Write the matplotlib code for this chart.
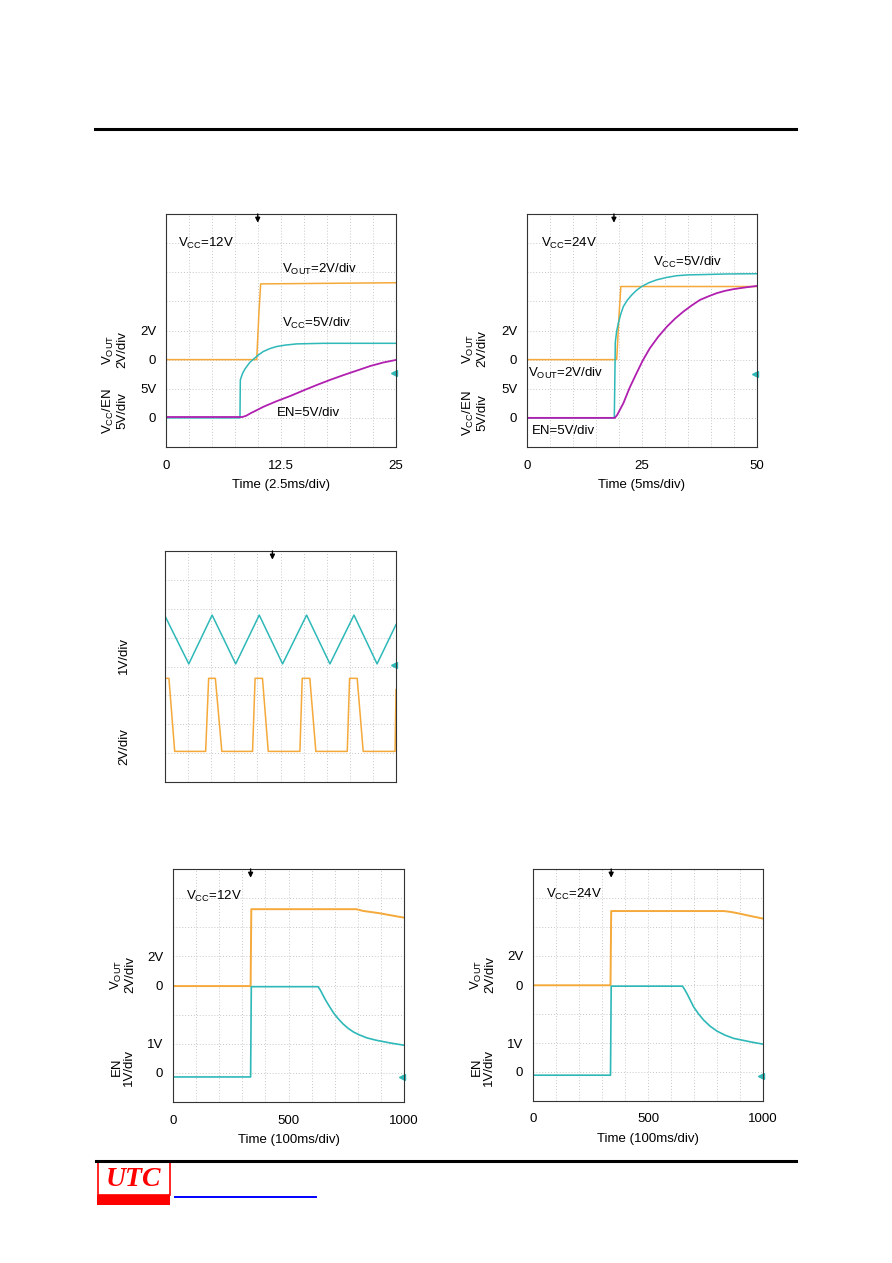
import matplotlib
matplotlib.use("Agg")
import matplotlib.pyplot as plt
from matplotlib.lines import Line2D
from matplotlib.patches import Rectangle

plt.rcParams['font.family'] = ['Liberation Sans', 'DejaVu Sans']
plt.rcParams['mathtext.fontset'] = 'custom'
plt.rcParams['mathtext.rm'] = 'Liberation Sans'
plt.rcParams['mathtext.it'] = 'Liberation Sans:italic'
plt.rcParams['mathtext.bf'] = 'Liberation Sans:bold'

W, H = 892, 1263
ORANGE = '#f4a93a'
CYAN = '#2fb8b8'
MAGENTA = '#b01fb0'
FS = 9.5

# ---- panel 1: start-up, Vcc=12V (time in ms, y in divisions) ----
p1_out_t = [0, 9.86, 10.1, 10.29, 25]
p1_out_y = [3.0, 3.0, 4.6, 5.6, 5.64]
p1_vcc_t = [0, 8.04, 8.08, 8.2, 8.33, 8.55, 8.77, 9.1, 9.49, 10.0, 10.58,
            11.3, 12.03, 13.0, 14.2, 17.1, 25]
p1_vcc_y = [1.0, 1.0, 2.30, 2.42, 2.53, 2.66, 2.76, 2.90, 3.01, 3.15, 3.28,
            3.38, 3.45, 3.50, 3.54, 3.56, 3.56]
p1_en_t = [0, 8.29, 8.7, 9.2, 9.9, 10.58, 12.0, 13.5, 15.0, 16.4, 17.8,
           19.3, 20.8, 22.2, 23.6, 25]
p1_en_y = [1.03, 1.03, 1.07, 1.16, 1.27, 1.38, 1.57, 1.75, 1.95, 2.13, 2.30,
           2.47, 2.63, 2.78, 2.90, 2.99]

# ---- panel 2: start-up, Vcc=24V ----
p2_out_t = [0, 19.5, 20.0, 20.4, 50]
p2_out_y = [3.0, 3.0, 4.5, 5.51, 5.51]
p2_vcc_t = [0, 18.98, 19.2, 19.5, 19.85, 20.4, 20.94, 21.8, 22.76, 23.8,
            24.93, 26.5, 28.2, 30.3, 32.5, 35.0, 38.3, 43.0, 50]
p2_vcc_y = [1.0, 1.0, 3.6, 3.98, 4.25, 4.57, 4.82, 5.04, 5.22, 5.38,
            5.51, 5.64, 5.74, 5.82, 5.88, 5.91, 5.92, 5.94, 5.95]
p2_en_t = [0, 19.1, 19.6, 20.2, 20.94, 22.3, 23.8, 25.2, 26.7, 28.5, 30.4,
           32.2, 34.0, 35.8, 37.6, 39.4, 41.2, 43.0, 44.9, 47.5, 50]
p2_en_y = [1.0, 1.0, 1.1, 1.28, 1.50, 2.03, 2.53, 2.98, 3.39, 3.78, 4.13,
           4.41, 4.65, 4.86, 5.05, 5.17, 5.28, 5.36, 5.42, 5.48, 5.53]

# ---- panel 3: oscillator / switching (x and y in divisions) ----
p3_tri_t = [0, 1.03, 2.04, 3.06, 4.08, 5.09, 6.13, 7.14, 8.18, 9.18, 10.0]
p3_tri_y = [5.75, 4.09, 5.78, 4.09, 5.78, 4.09, 5.78, 4.09, 5.78, 4.09, 5.45]
p3_sq_t = [0, 0.17, 0.42, 1.76, 1.89, 2.18, 2.46, 3.79, 3.90, 4.22, 4.47,
           5.84, 5.94, 6.27, 6.53, 7.89, 7.99, 8.32, 8.58, 9.96, 10.0]
p3_sq_y = [3.59, 3.59, 1.06, 1.06, 3.59, 3.59, 1.06, 1.06, 3.59, 3.59, 1.06,
           1.06, 3.59, 3.59, 1.06, 1.06, 3.59, 3.59, 1.06, 1.06, 3.2]

# ---- panel 4: EN on/off, Vcc=12V (time in ms) ----
p4_out_t = [0, 336, 339, 794, 823, 860, 895, 950, 1000]
p4_out_y = [3.98, 3.98, 6.62, 6.62, 6.56, 6.52, 6.48, 6.40, 6.33]
p4_en_t = [0, 336, 339, 628, 638, 649, 662, 678, 695, 714, 735, 758, 782,
           808, 840, 880, 938, 1000]
p4_en_y = [0.86, 0.86, 3.96, 3.96, 3.84, 3.67, 3.48, 3.27, 3.06, 2.87, 2.69,
           2.53, 2.40, 2.30, 2.20, 2.12, 2.03, 1.95]

# ---- panel 5: EN on/off, Vcc=24V ----
p5_out_t = [0, 337, 340, 829, 860, 887, 945, 1000]
p5_out_y = [3.99, 3.99, 6.55, 6.55, 6.52, 6.48, 6.38, 6.29]
p5_en_t = [0, 337, 340, 650, 659, 669, 683, 698, 720, 742, 770, 800, 835,
           872, 945, 1000]
p5_en_y = [0.89, 0.89, 3.96, 3.96, 3.85, 3.71, 3.49, 3.25, 3.00, 2.79, 2.58,
           2.41, 2.27, 2.16, 2.04, 1.96]

fig = plt.figure(figsize=(W / 100, H / 100), dpi=100)


def fx(x):
    return x / W


def fy(y):
    return 1 - y / H


def panel(box, xmax, xticks, xlabels, yticks, ylabels, xlabel, trig, mark_y):
    x0, y0, x1, y1 = box
    ax = fig.add_axes([fx(x0), fy(y1), (x1 - x0) / W, (y1 - y0) / H])
    ax.set_xlim(0, xmax)
    ax.set_ylim(0, 8)
    ax.set_xticks(xticks)
    ax.set_xticklabels(xlabels, fontsize=FS)
    ax.set_xticks([xmax * i / 10 for i in range(11)], minor=True)
    ax.set_yticks(yticks)
    ax.set_yticklabels(ylabels, fontsize=FS)
    ax.set_yticks(range(9), minor=True)
    ax.tick_params(which='both', length=0)
    ax.tick_params(axis='x', pad=9)
    ax.tick_params(axis='y', pad=7)
    ax.grid(which='both', color='#c8c8c8', lw=0.7, ls=(0, (1, 2)))
    ax.set_axisbelow(True)
    for s in ax.spines.values():
        s.set_color('#333333')
        s.set_linewidth(0.8)
    if xlabel:
        ax.set_xlabel(xlabel, fontsize=FS, labelpad=5.5)
    ax.annotate('', xy=(trig, 7.7), xytext=(trig, 8.0),
                arrowprops=dict(arrowstyle='-|>', color='black', lw=1.0,
                                mutation_scale=7, shrinkA=0, shrinkB=0))
    ax.plot([xmax * 0.992], [mark_y], marker='<', color=CYAN, markersize=5,
            clip_on=False)
    return ax


def ylab(x, y, s):
    fig.text(fx(x), fy(y), s, rotation=90, ha='center', va='center',
             fontsize=FS, linespacing=1.05)


# page rules
fig.add_artist(Line2D([fx(95), fx(796)], [fy(129), fy(129)], color='black', lw=2.2))
fig.add_artist(Line2D([fx(96), fx(796)], [fy(1160.5), fy(1160.5)], color='black', lw=2.2))

# panel 1
ax = panel((166, 214, 396, 447), 25, [0, 12.5, 25], ['0', '12.5', '25'],
           [1, 2, 3, 4], ['0', '5V', '0', '2V'], 'Time (2.5ms/div)', 9.97, 2.54)
ax.plot(p1_out_t, p1_out_y, color=ORANGE, lw=1.1)
ax.plot(p1_vcc_t, p1_vcc_y, color=CYAN, lw=1.1)
ax.plot(p1_en_t, p1_en_y, color=MAGENTA, lw=1.3)
ax.text(1.3, 7.0, r'V$_{\rm CC}$=12V', fontsize=FS, va='center')
ax.text(12.6, 6.08, r'V$_{\rm OUT}$=2V/div', fontsize=FS, va='center')
ax.text(12.6, 4.23, r'V$_{\rm CC}$=5V/div', fontsize=FS, va='center')
ax.text(12.1, 1.17, 'EN=5V/div', fontsize=FS, va='center')
ylab(115, 350, 'V$_{\\rm OUT}$\n2V/div')
ylab(115, 411, 'V$_{\\rm CC}$/EN\n5V/div')

# panel 2
ax = panel((527, 214, 757, 447), 50, [0, 25, 50], ['0', '25', '50'],
           [1, 2, 3, 4], ['0', '5V', '0', '2V'], 'Time (5ms/div)', 18.9, 2.51)
ax.plot(p2_out_t, p2_out_y, color=ORANGE, lw=1.1)
ax.plot(p2_vcc_t, p2_vcc_y, color=CYAN, lw=1.1)
ax.plot(p2_en_t, p2_en_y, color=MAGENTA, lw=1.3)
ax.text(3.0, 7.0, r'V$_{\rm CC}$=24V', fontsize=FS, va='center')
ax.text(27.4, 6.32, r'V$_{\rm CC}$=5V/div', fontsize=FS, va='center')
ax.text(0.2, 2.54, r'V$_{\rm OUT}$=2V/div', fontsize=FS, va='center')
ax.text(1.0, 0.55, 'EN=5V/div', fontsize=FS, va='center')
ylab(475, 349, 'V$_{\\rm OUT}$\n2V/div')
ylab(475, 413, 'V$_{\\rm CC}$/EN\n5V/div')

# panel 3
ax = panel((165, 551, 396, 782), 10, [], [], [], [], None, 4.65, 4.05)
ax.plot(p3_tri_t, p3_tri_y, color=CYAN, lw=1.1)
ax.plot(p3_sq_t, p3_sq_y, color=ORANGE, lw=1.1)
ylab(124, 655, '1V/div')
ylab(124, 747, '2V/div')

# panel 4
ax = panel((173, 869, 404, 1102), 1000, [0, 500, 1000], ['0', '500', '1000'],
           [1, 2, 4, 5], ['0', '1V', '0', '2V'], 'Time (100ms/div)', 336, 0.86)
ax.plot(p4_out_t, p4_out_y, color=ORANGE, lw=1.4)
ax.plot(p4_en_t, p4_en_y, color=CYAN, lw=1.2)
ax.text(55, 7.06, r'V$_{\rm CC}$=12V', fontsize=FS, va='center')
ylab(123, 975, 'V$_{\\rm OUT}$\n2V/div')
ylab(123, 1067, 'EN\n1V/div')

# panel 5
ax = panel((533, 869, 763, 1101), 1000, [0, 500, 1000], ['0', '500', '1000'],
           [1, 2, 4, 5], ['0', '1V', '0', '2V'], 'Time (100ms/div)', 340, 0.85)
ax.plot(p5_out_t, p5_out_y, color=ORANGE, lw=1.4)
ax.plot(p5_en_t, p5_en_y, color=CYAN, lw=1.2)
ax.text(58, 7.11, r'V$_{\rm CC}$=24V', fontsize=FS, va='center')
ylab(483, 975, 'V$_{\\rm OUT}$\n2V/div')
ylab(483, 1067, 'EN\n1V/div')

# footer logo
fig.add_artist(Rectangle((fx(97.5), fy(1195)), 72 / W, 34 / H, transform=fig.transFigure,
                         facecolor='white', edgecolor='red', lw=1.2))
fig.add_artist(Rectangle((fx(97), fy(1204.5)), 73 / W, 9.5 / H, transform=fig.transFigure,
                         facecolor='red', edgecolor='none'))
fig.text(fx(133.5), fy(1179), 'UTC', color='red', fontsize=20, fontstyle='italic',
         fontweight='bold', family=['Liberation Serif', 'DejaVu Serif'],
         ha='center', va='center')
fig.add_artist(Line2D([fx(175), fx(316)], [fy(1196.7), fy(1196.7)], color='#0000ff', lw=1.4))

fig.savefig('out.png', dpi=100, facecolor='white')
